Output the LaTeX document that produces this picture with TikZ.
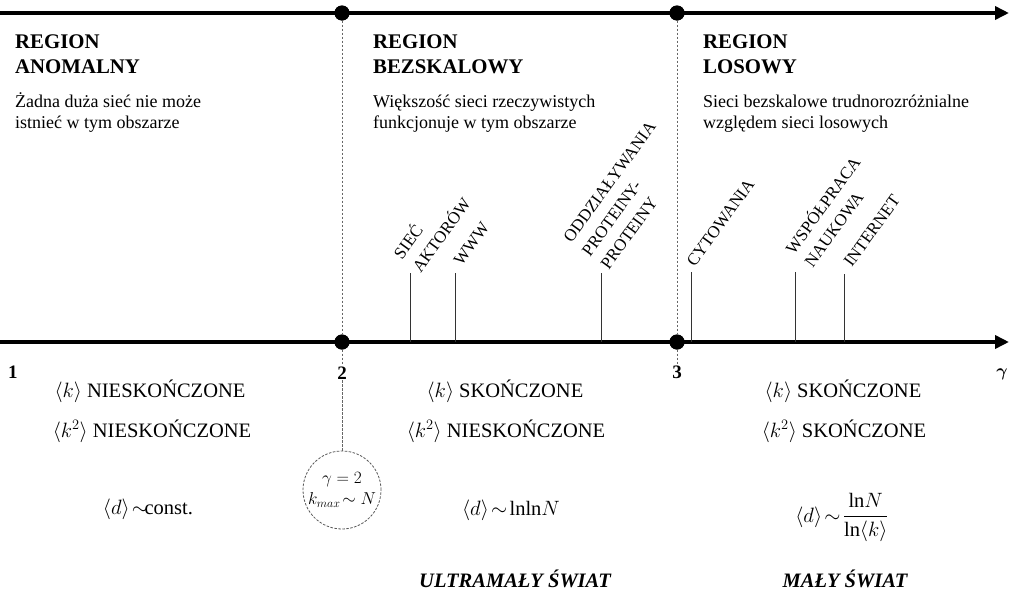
\documentclass[tikz,border=0pt]{standalone}
\usepackage{amsmath}
\usepackage{fontspec}
\setmainfont{Liberation Serif}
\usetikzlibrary{arrows.meta}
\begin{document}
\begin{tikzpicture}[x=1pt,y=-1pt,
  axis/.style={line width=4pt,-{Triangle[length=14pt,width=13pt]}},
  dot/.style={circle,fill=black,inner sep=0pt,minimum size=15pt},
  dashline/.style={black!60,line width=0.8pt,dash pattern=on 2.5pt off 1.5pt},
  tickline/.style={line width=0.8pt,black!80},
  head/.style={font=\fontsize{20.8}{24}\selectfont\bfseries,anchor=base west,inner sep=0pt},
  desc/.style={font=\fontsize{18}{22}\selectfont,anchor=base west,inner sep=0pt},
  tlabel/.style={font=\fontsize{17}{23}\selectfont,rotate=54,anchor=south west,align=left,inner sep=0pt},
  num/.style={font=\fontsize{19}{22}\selectfont\bfseries,inner sep=1pt},
  prop/.style={font=\fontsize{20.5}{24}\selectfont,anchor=base,inner sep=0pt},
  world/.style={font=\fontsize{20.5}{24}\selectfont\bfseries\itshape,anchor=base,inner sep=0pt},
  gcircle/.style={circle,draw=black!65,line width=0.8pt,dash pattern=on 2.5pt off 1.5pt,minimum size=78pt,inner sep=0pt,align=center,font=\fontsize{18.5}{23}\selectfont},
]
\useasboundingbox (0,0) rectangle (1012,592);
\fill[white] (0,0) rectangle (1012,592);

% axis end points and dots
\coordinate (tl) at (0,13);
\coordinate (tr) at (1009,13);
\coordinate (bl) at (0,342);
\coordinate (br) at (1009,342);
\node[dot] (d2t) at (342,13) {};
\node[dot] (d3t) at (677,13) {};
\node[dot] (d2b) at (342,342) {};
\node[dot] (d3b) at (677,342) {};

% numbers on the axis
\node[num] (n1) at (13,372) {1};
\node[num] (n2) at (342,373) {2};
\node[num] (n3) at (677,372) {3};
\node[num] (ng) at (1002,374) {$\boldsymbol{\gamma}$};

% gamma=2 circle
\node[gcircle] (circ) at (342,490) {$\gamma=2$\\[-2pt]$k_{max}\!\sim N$};

% dashed separators
\draw[dashline] (d2t) -- (d2b);
\draw[dashline] (d3t) -- (d3b);
\draw[dashline] (d2b) -- (n2.north);
\draw[dashline] (n2.south) -- (circ.north);
\draw[dashline] (d3b) -- (n3.north);

% axes
\draw[axis] (tl) -- (tr);
\draw[axis] (bl) -- (br);
\node[dot] at (d2t) {};
\node[dot] at (d3t) {};
\node[dot] at (d2b) {};
\node[dot] at (d3b) {};

% region headings
\node[head] (r1a) at (15,48) {REGION};
\node[head] (r1b) at (15,73) {ANOMALNY};
\node[desc] (s1a) at (15,107) {Żadna duża sieć nie może};
\node[desc] (s1b) at (15,128) {istnieć w tym obszarze};

\node[head] (r2a) at (373,48) {REGION};
\node[head] (r2b) at (373,73) {BEZSKALOWY};
\node[desc] (s2a) at (373,107) {Większość sieci rzeczywistych};
\node[desc] (s2b) at (373,128) {funkcjonuje w tym obszarze};

\node[head] (r3a) at (703,48) {REGION};
\node[head] (r3b) at (703,73) {LOSOWY};
\node[desc] (s3a) at (703,107) {Sieci bezskalowe trudnorozróżnialne};
\node[desc] (s3b) at (703,128) {względem sieci losowych};

% network ticks
\coordinate (k1) at (410,273);
\coordinate (k2) at (455,273);
\coordinate (k3) at (601,273);
\coordinate (k4) at (691,272);
\coordinate (k5) at (795,272);
\coordinate (k6) at (844,274);
\foreach \k in {k1,k2,k3,k4,k5,k6} \draw[tickline] (\k) -- (\k |- bl);

\node[tlabel] (l1) at (421,274) {SIEĆ\\AKTORÓW};
\node[tlabel] (l2) at (462,267) {WWW};
\node[tlabel] (l3) at (609,271) {ODDZIAŁYWANIA\\PROTEINY-\\PROTEINY};
\node[tlabel] (l4) at (695,268) {CYTOWANIA};
\node[tlabel] (l5) at (813,269) {WSPÓŁPRACA\\NAUKOWA};
\node[tlabel] (l6) at (852,268) {INTERNET};

% properties
\node[prop] (p1a) at (150,397) {$\langle k\rangle$ NIESKOŃCZONE};
\node[prop] (p1b) at (152,437) {$\langle k^2\rangle$ NIESKOŃCZONE};
\node[prop] (p1c) at (148,514) {$\langle d\rangle\!\sim\!$const.};

\node[prop] (p2a) at (505,397) {$\langle k\rangle$ SKOŃCZONE};
\node[prop] (p2b) at (506,437) {$\langle k^2\rangle$ NIESKOŃCZONE};
\node[prop] (p2c) at (511,515) {$\langle d\rangle\!\sim\!\ln\!\ln\! N$};
\node[world] (w2) at (515,587) {ULTRAMAŁY ŚWIAT};

\node[prop] (p3a) at (843,397) {$\langle k\rangle$ SKOŃCZONE};
\node[prop] (p3b) at (844,437) {$\langle k^2\rangle$ SKOŃCZONE};
\node[prop] (p3c) at (842,522) {$\langle d\rangle\!\sim\!\dfrac{\ln\! N}{\ln\langle k\rangle}$};
\node[world] (w3) at (845,587) {MAŁY ŚWIAT};
\end{tikzpicture}
\end{document}
